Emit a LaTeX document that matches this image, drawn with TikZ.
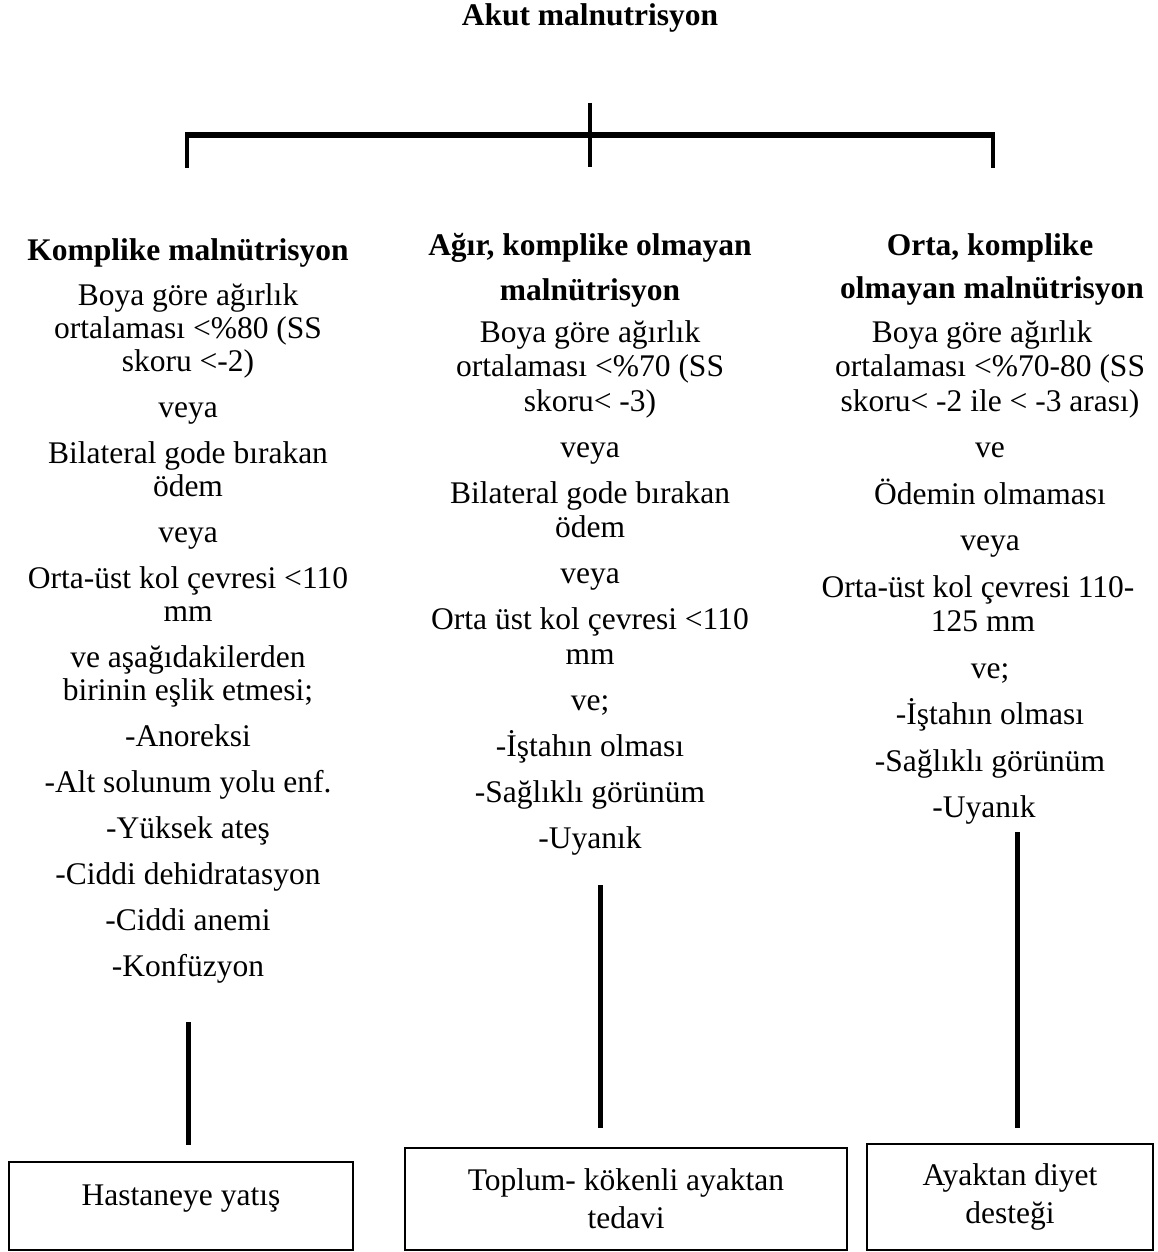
\documentclass[tikz,border=0pt]{standalone}
\usepackage{fontspec}
\setmainfont{Liberation Serif}
\begin{document}
\begin{tikzpicture}[x=1pt,y=-1pt,
  txt/.style={anchor=base, inner sep=0pt, font=\fontsize{31.5}{34.5}\selectfont},
  hd/.style={txt, font=\fontsize{31.5}{34.5}\selectfont\bfseries},
  box/.style={draw, line width=1.8pt, inner sep=0pt, align=center, font=\fontsize{31.5}{38}\selectfont},
  stem/.style={line width=5pt},
  leg/.style={line width=3.8pt},
  bar/.style={line width=5.5pt}]
\useasboundingbox (0,0) rectangle (1158,1252);

% title
\node[hd] (title) at (590,26) {Akut malnutrisyon};

% bracket
\coordinate (bt) at (590,103);
\coordinate (bb) at (590,167);
\coordinate (bl) at (185.1,135);
\coordinate (br) at (994.9,135);
\coordinate (lt) at (187,135);
\coordinate (lb) at (187,168);
\coordinate (rt) at (993,135);
\coordinate (rb) at (993,168);
\draw[bar] (bl) -- (br);
\draw[leg] (lt) -- (lb);
\draw[leg] (rt) -- (rb);
\draw[leg] (bt) -- (bb);

% column 1
\node[hd]  (c1a) at (188,260) {Komplike malnütrisyon};
\node[txt] (c1b) at (188,305) {Boya göre ağırlık};
\node[txt] (c1c) at (188,338) {ortalaması <\%80 (SS};
\node[txt] (c1d) at (188,371) {skoru <-2)};
\node[txt] (c1e) at (188,417) {veya};
\node[txt] (c1f) at (188,463) {Bilateral gode bırakan};
\node[txt] (c1g) at (188,496) {ödem};
\node[txt] (c1h) at (188,542) {veya};
\node[txt] (c1i) at (188,588) {Orta-üst kol çevresi <110};
\node[txt] (c1j) at (188,621) {mm};
\node[txt] (c1k) at (188,667) {ve aşağıdakilerden};
\node[txt] (c1l) at (188,700) {birinin eşlik etmesi;};
\node[txt] (c1m) at (188,746) {-Anoreksi};
\node[txt] (c1n) at (188,792) {-Alt solunum yolu enf.};
\node[txt] (c1o) at (188,838) {-Yüksek ateş};
\node[txt] (c1p) at (188,884) {-Ciddi dehidratasyon};
\node[txt] (c1q) at (188,930) {-Ciddi anemi};
\node[txt] (c1r) at (188,976) {-Konfüzyon};

% column 2
\node[hd]  (c2a) at (590,255) {Ağır, komplike olmayan};
\node[hd]  (c2b) at (590,300) {malnütrisyon};
\node[txt] (c2c) at (590,342) {Boya göre ağırlık};
\node[txt] (c2d) at (590,376.5) {ortalaması <\%70 (SS};
\node[txt] (c2e) at (590,411) {skoru< -3)};
\node[txt] (c2f) at (590,457) {veya};
\node[txt] (c2g) at (590,503) {Bilateral gode bırakan};
\node[txt] (c2h) at (590,537.5) {ödem};
\node[txt] (c2i) at (590,583.5) {veya};
\node[txt] (c2j) at (590,629.5) {Orta üst kol çevresi <110};
\node[txt] (c2k) at (590,664) {mm};
\node[txt] (c2l) at (590,710) {ve;};
\node[txt] (c2m) at (590,756) {-İştahın olması};
\node[txt] (c2n) at (590,802) {-Sağlıklı görünüm};
\node[txt] (c2o) at (590,848) {-Uyanık};

% column 3
\node[hd]  (c3a) at (990,255) {Orta, komplike};
\node[hd]  (c3b) at (992,298) {olmayan malnütrisyon};
\node[txt] (c3c) at (982,342) {Boya göre ağırlık};
\node[txt] (c3d) at (990,376.5) {ortalaması <\%70-80 (SS};
\node[txt] (c3e) at (990,411) {skoru< -2 ile < -3 arası)};
\node[txt] (c3f) at (990,457.5) {ve};
\node[txt] (c3g) at (990,504) {Ödemin olmaması};
\node[txt] (c3h) at (990,550.5) {veya};
\node[txt] (c3i) at (978,597) {Orta-üst kol çevresi 110-};
\node[txt] (c3j) at (983,631.5) {125 mm};
\node[txt] (c3k) at (990,678) {ve;};
\node[txt] (c3l) at (990,724.5) {-İştahın olması};
\node[txt] (c3m) at (990,771) {-Sağlıklı görünüm};
\node[txt] (c3n) at (984,817.5) {-Uyanık};

% stems
\coordinate (s1t) at (188,1022);
\coordinate (s1b) at (188,1145);
\coordinate (s2t) at (600,885);
\coordinate (s2b) at (600,1128);
\coordinate (s3t) at (1017,832);
\coordinate (s3b) at (1017,1128);
\draw[stem] (s1t) -- (s1b);
\draw[stem] (s2t) -- (s2b);
\draw[stem] (s3t) -- (s3b);

% boxes
\node[box, anchor=base, minimum width=344pt, text height=43pt, text depth=45pt] (b1) at (181,1205) {Hastaneye yatış};
\node[box, minimum width=442pt, minimum height=102pt] (b2) at (626,1199) {Toplum- kökenli ayaktan\\tedavi};
\node[box, minimum width=286pt, minimum height=106pt] (b3) at (1010,1197) {Ayaktan diyet\\desteği};
\end{tikzpicture}
\end{document}
